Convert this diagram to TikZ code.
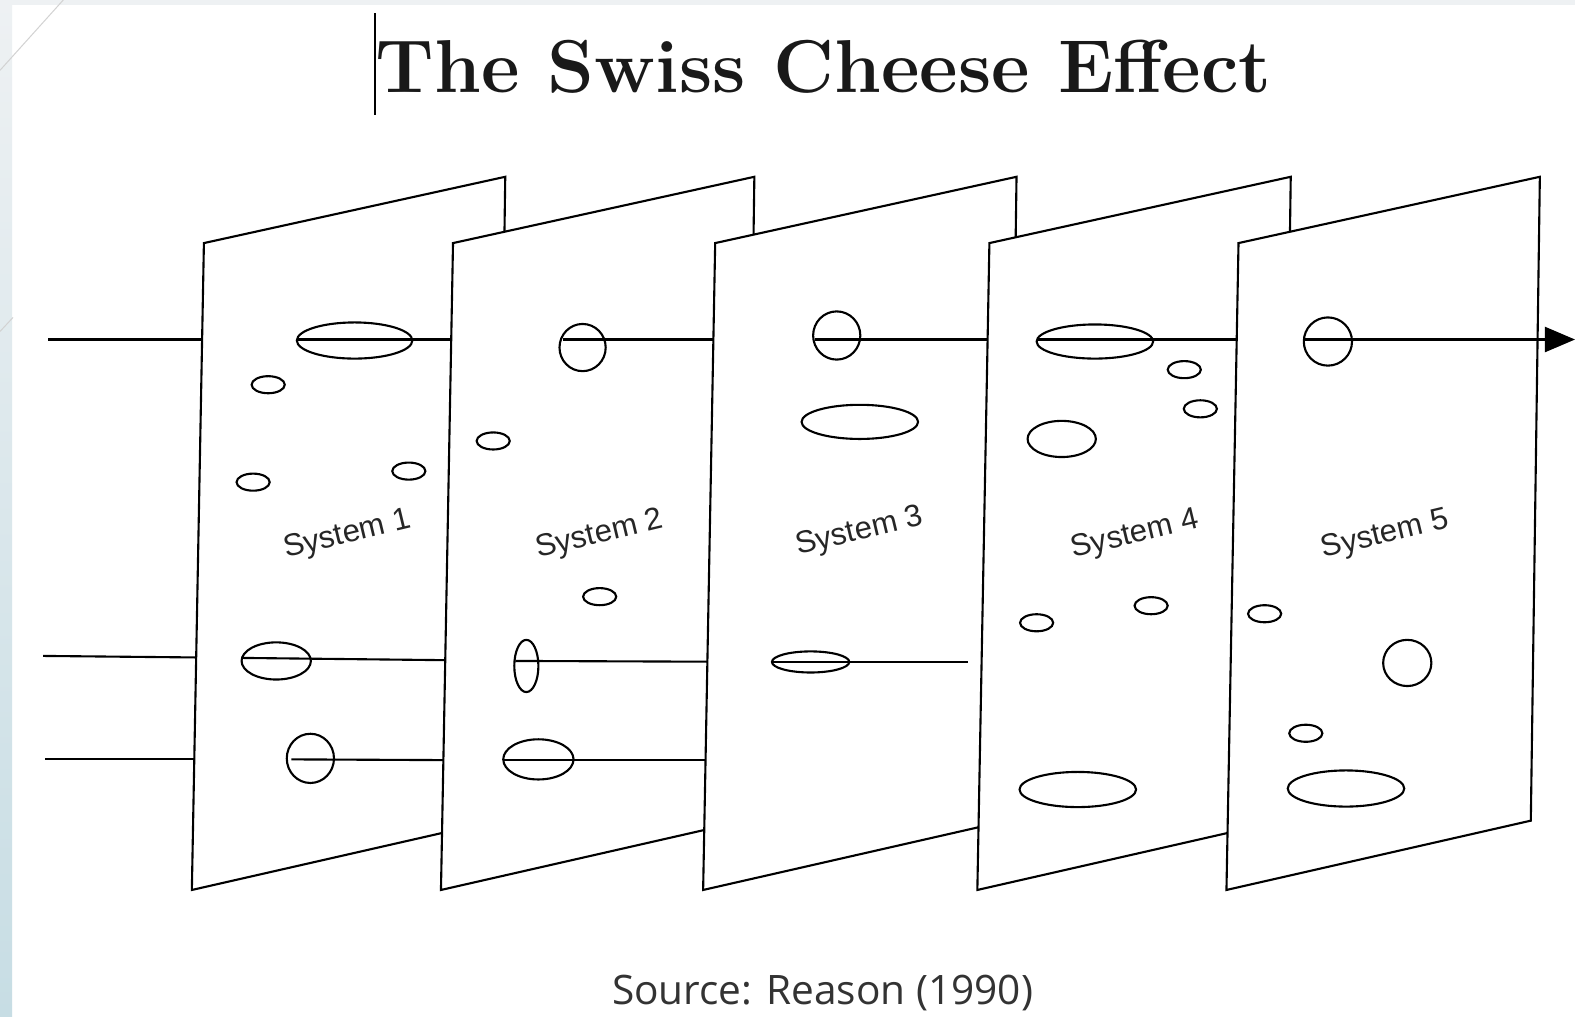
\documentclass[tikz,border=0pt]{standalone}
\usepackage{fontspec}
\usepackage{tikz}
\usetikzlibrary{shapes.geometric, arrows, arrows.meta}
\newfontfamily\labelfont{Liberation Sans}
\newfontfamily\sourcefont{Open Sans}
\definecolor{stripblue}{HTML}{C7DDE4}
\definecolor{stripgray}{HTML}{EEF1F3}
\definecolor{sourcegray}{HTML}{333333}
\tikzstyle{slice} =
[
	draw=black
	, fill=white
	, line width=1.05pt
]
\tikzstyle{hole} =
[
	ellipse
	, draw=black
	, line width=1.05pt
	, inner sep=0pt
]
\tikzstyle{smallhole} = [hole, minimum width=16.5pt, minimum height=8.5pt]
\tikzstyle{syslabel} = [rotate=13.5, font=\labelfont\fontsize{15.5}{18}\selectfont, text=black!85]
\tikzstyle{ray} = [line width=1.05pt]
\tikzstyle{arrow} = [line width=1.05pt, -{Triangle[length=15pt, width=12.5pt]}]

\begin{document}
\begin{tikzpicture}[x=0.5pt, y=-0.5pt]

\useasboundingbox (0,0) rectangle (1568,1012);
\fill[white] (0,0) rectangle (1568,1012);
\fill[stripgray] (0,0) rectangle (1568,5);
\shade[top color=stripgray, bottom color=stripblue] (0,0) rectangle (12,1012);
\draw[gray!35, line width=0.5pt] (63,0) -- (0,70);
\draw[gray!35, line width=0.5pt] (13,316) -- (0,330);

\node(title)[anchor=base, font=\fontsize{37.3}{42}\selectfont\bfseries, text=black!90] at (820,92) {The Swiss Cheese Effect};
\coordinate(cur1) at (373,13);
\coordinate(cur2) at (373,114);
\draw[line width=0.9pt](cur1)--(cur2);

\coordinate(t0) at (48,338);
\coordinate(t1) at (297,338);
\coordinate(t2) at (560,338);
\coordinate(t3) at (811,338);
\coordinate(t4) at (1033,338);
\coordinate(t5) at (1299,338);
\coordinate(t6) at (1568,338);
\coordinate(m0) at (43,653);
\coordinate(m1) at (242,655);
\coordinate(m2) at (513,658);
\coordinate(m3) at (769,659);
\coordinate(m4) at (964,659);
\coordinate(b0) at (45,756);
\coordinate(b1) at (290,756);
\coordinate(b2) at (501,757);
\coordinate(b3) at (760,757);

\draw[ray](t0)--(t1);
\draw[ray](m0)--(m1);
\draw[ray](b0)--(b1);

% system 1
\draw[slice] (203,242) -- (503,176) -- (494,817) -- (191,886) -- cycle;
\node(h1a)[hole, minimum width=57.5pt, minimum height=18pt] at (353,339) {};
\node(h1b)[smallhole] at (267,383) {};
\node(h1c)[smallhole] at (252,480) {};
\node(h1d)[smallhole] at (407,469) {};
\node(h1e)[hole, minimum width=34.5pt, minimum height=18.5pt] at (275,658) {};
\node(h1f)[hole, minimum width=23.5pt, minimum height=24.5pt] at (309,755) {};
\node(sys1)[syslabel] at (346,533) {System 1};
\draw[ray](t1)--(t2);
\draw[ray](m1)--(m2);
\draw[ray](b1)--(b2);

% system 2
\draw[slice] (451,242) -- (751,176) -- (742,817) -- (439,886) -- cycle;
\node(h2a)[hole, minimum width=23pt, minimum height=23.5pt] at (580,346) {};
\node(h2b)[smallhole] at (491,439) {};
\node(h2c)[smallhole] at (597,594) {};
\node(h2d)[hole, minimum width=12pt, minimum height=26pt] at (524,663) {};
\node(h2e)[hole, minimum width=35pt, minimum height=20pt] at (536,756) {};
\node(sys2)[syslabel] at (597,533) {System 2};
\draw[ray](t2)--(t3);
\draw[ray](m2)--(m3);
\draw[ray](b2)--(b3);

% system 3
\draw[slice] (712,242) -- (1012,176) -- (1003,817) -- (700,886) -- cycle;
\node(h3a)[hole, minimum width=23.5pt, minimum height=24pt] at (833,334) {};
\node(h3b)[hole, minimum width=58pt, minimum height=17pt] at (856,420) {};
\node(h3c)[hole, minimum width=38.5pt, minimum height=10.5pt] at (807,659) {};
\node(sys3)[syslabel] at (856,530) {System 3};
\draw[ray](t3)--(t4);
\draw[ray](m3)--(m4);

% system 4
\draw[slice] (985,242) -- (1285,176) -- (1276,817) -- (973,886) -- cycle;
\node(h4a)[hole, minimum width=58pt, minimum height=17pt] at (1090,340) {};
\node(h4b)[smallhole] at (1179,368) {};
\node(h4c)[smallhole] at (1195,407) {};
\node(h4d)[hole, minimum width=34pt, minimum height=18pt] at (1057,437) {};
\node(h4e)[smallhole] at (1146,603) {};
\node(h4f)[smallhole] at (1032,620) {};
\node(h4g)[hole, minimum width=58pt, minimum height=17.5pt] at (1073,786) {};
\node(sys4)[syslabel] at (1130,533) {System 4};
\draw[ray](t4)--(t5);

% system 5
\draw[slice] (1233,242) -- (1533,176) -- (1524,817) -- (1221,886) -- cycle;
\node(h5a)[hole, minimum width=24pt, minimum height=24pt] at (1322,340) {};
\node(h5b)[smallhole] at (1259,611) {};
\node(h5c)[hole, minimum width=24pt, minimum height=23pt] at (1401,660) {};
\node(h5d)[smallhole] at (1300,730) {};
\node(h5e)[hole, minimum width=58pt, minimum height=18pt] at (1340,785) {};
\node(sys5)[syslabel] at (1379,533) {System 5};
\draw[arrow](t5)--(t6);

\node(source)[anchor=base, font=\sourcefont\fontsize{20.2}{24}\selectfont, text=sourcegray] at (819,1000) {Source: Reason (1990)};

\end{tikzpicture}
\end{document}
